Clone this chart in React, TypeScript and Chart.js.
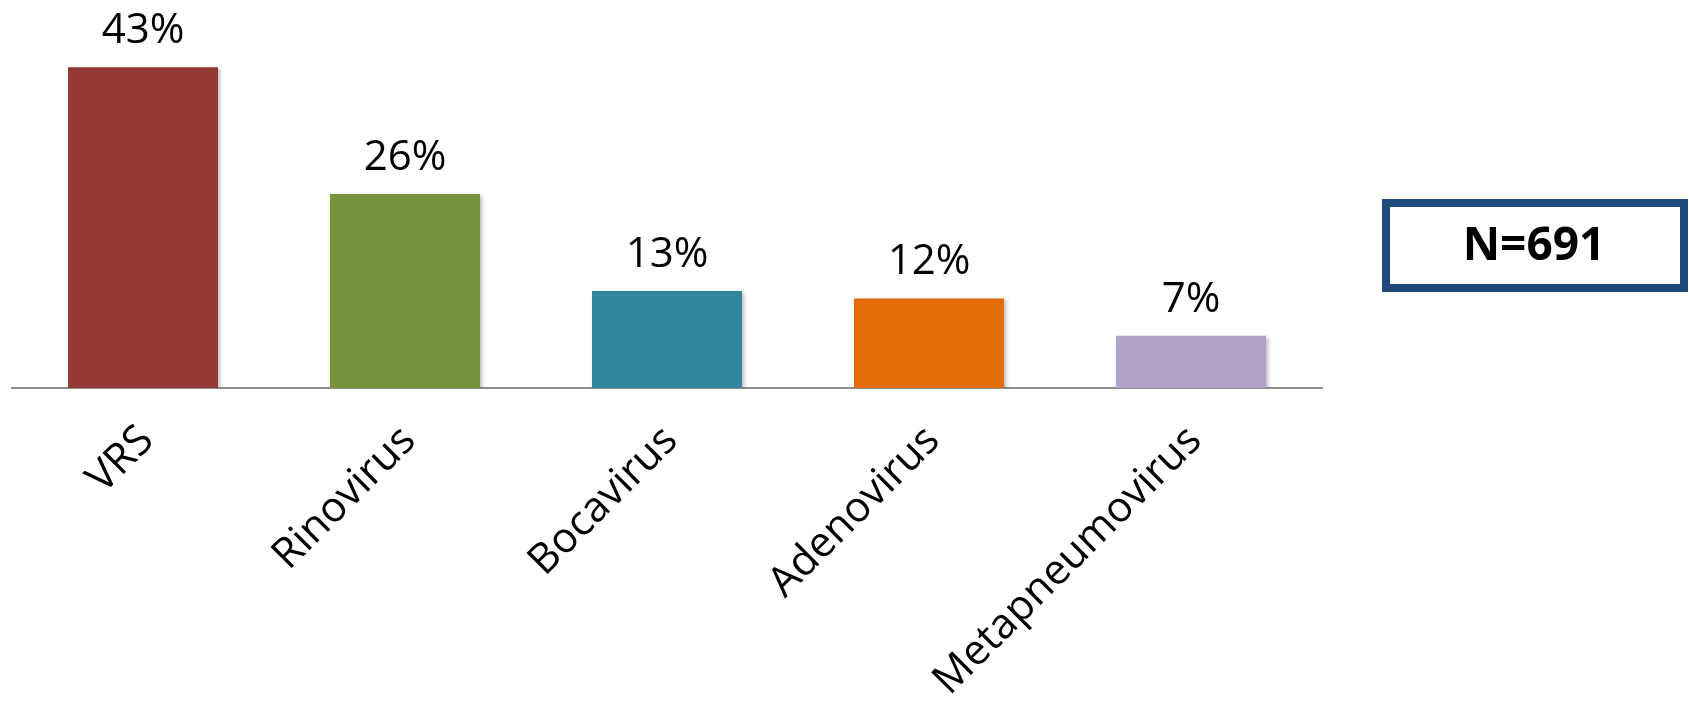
import React, { useEffect, useRef } from "react";
import { Chart, registerables } from "chart.js";

Chart.register(...registerables);

const categories: string[] = ["VRS", "Rinovirus", "Bocavirus", "Adenovirus", "Metapneumovirus"];
const percentValues: number[] = [43, 26, 13, 12, 7];
const barColors: string[] = ["#953735", "#77933C", "#31859C", "#E46C0A", "#B3A2C7"];
const sampleLabel = "N=691";

const FONT_FAMILY = "'Open Sans', 'Noto Sans', sans-serif";

const shadowPlugin = {
  id: "barShadow",
  beforeDatasetDraw(chart: any) {
    const ctx = chart.ctx;
    ctx.save();
    ctx.shadowColor = "rgba(0,0,0,0.28)";
    ctx.shadowBlur = 4;
    ctx.shadowOffsetX = 2;
    ctx.shadowOffsetY = 2;
  },
  afterDatasetDraw(chart: any) {
    chart.ctx.restore();
  },
};

const valueLabelPlugin = {
  id: "valueLabels",
  afterDatasetsDraw(chart: any) {
    const ctx = chart.ctx;
    const meta = chart.getDatasetMeta(0);
    ctx.save();
    ctx.font = `42px ${FONT_FAMILY}`;
    ctx.fillStyle = "#000000";
    ctx.textAlign = "center";
    ctx.textBaseline = "alphabetic";
    meta.data.forEach((bar: any, i: number) => {
      ctx.fillText(`${percentValues[i]}%`, bar.x, bar.y - 24);
    });
    ctx.restore();
  },
};

const sampleBoxPlugin = {
  id: "sampleBox",
  afterDraw(chart: any) {
    const ctx = chart.ctx;
    ctx.save();
    ctx.strokeStyle = "#1F497D";
    ctx.lineWidth = 8;
    ctx.strokeRect(1386, 203, 298, 85);
    ctx.font = `bold 46px ${FONT_FAMILY}`;
    ctx.fillStyle = "#000000";
    ctx.textAlign = "center";
    ctx.textBaseline = "alphabetic";
    ctx.fillText(sampleLabel, 1534, 260);
    ctx.restore();
  },
};

export default function App() {
  const canvasRef = useRef<HTMLCanvasElement | null>(null);

  useEffect(() => {
    if (!canvasRef.current) return;
    const chart = new Chart(canvasRef.current, {
      type: "bar",
      data: {
        labels: categories,
        datasets: [
          {
            data: percentValues,
            backgroundColor: barColors,
            borderWidth: 0,
            categoryPercentage: 1,
            barPercentage: 0.5725,
          },
        ],
      },
      options: {
        responsive: false,
        animation: false,
        layout: { padding: { left: 12, right: 367, top: 0, bottom: 0 } },
        plugins: {
          legend: { display: false },
          tooltip: { enabled: false },
          title: { display: false },
        },
        scales: {
          y: {
            display: false,
            min: 0,
            max: 52,
          },
          x: {
            grid: { display: false, drawTicks: false },
            border: { display: true, color: "#8E8E8E", width: 2 },
            ticks: {
              autoSkip: false,
              minRotation: 45,
              maxRotation: 45,
              padding: 28,
              labelOffset: 4,
              color: "#000000",
              font: { family: FONT_FAMILY, size: 42 },
            },
            afterFit(scale: any) {
              scale.height = 317;
            },
          },
        },
      },
      plugins: [shadowPlugin, valueLabelPlugin, sampleBoxPlugin],
    });
    return () => chart.destroy();
  }, []);

  return (
    <div style={{ position: "absolute", left: 0, top: 0, width: 1689, height: 705, background: "#ffffff" }}>
      <canvas ref={canvasRef} width={1689} height={705} style={{ display: "block", width: 1689, height: 705 }} />
    </div>
  );
}
